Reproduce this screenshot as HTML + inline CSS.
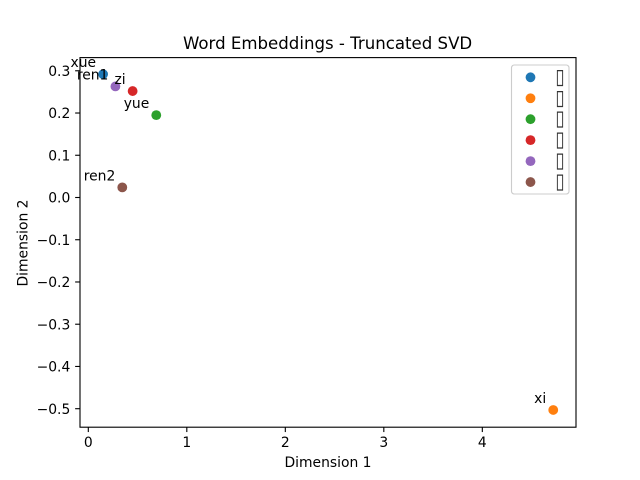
<!DOCTYPE html>
<html>
<head>
<meta charset="utf-8">
<title>Word Embeddings - Truncated SVD</title>
<style>
html,body{margin:0;padding:0;background:#fff;width:640px;height:480px;overflow:hidden}
svg{display:block}
text{font-family:"DejaVu Sans",sans-serif;fill:#000}
</style>
</head>
<body>
<svg id="chart" xmlns="http://www.w3.org/2000/svg" width="640" height="480" viewBox="0 0 640 480">
<rect x="0" y="0" width="640" height="480" fill="#fff"/>
<rect x="80" y="57.6" width="496" height="369.6" fill="#fff"/>
<g id="marks"></g>
<g id="labels"></g>
<g id="xticks"></g>
<g id="yticks"></g>
<rect x="80" y="57.6" width="496" height="369.6" fill="none" stroke="#000" stroke-width="1.11"/>
<text x="327.6" y="49" font-size="16.6" text-anchor="middle">Word Embeddings - Truncated SVD</text>
<text x="328" y="467" font-size="13.89" text-anchor="middle">Dimension 1</text>
<text transform="translate(27.6 243) rotate(-90)" font-size="13.89" text-anchor="middle">Dimension 2</text>
<g id="legend">
<rect x="511.5" y="65" width="57.5" height="129" rx="2.8" fill="#fff" fill-opacity="0.8" stroke="#ccc" stroke-width="1.11"/>
</g>
</svg>
<script>
const pointNames = ["xue", "xi", "yue", "zi", "ren1", "ren2"];
const dimension1 = [0.15, 4.72, 0.69, 0.45, 0.275, 0.345];
const dimension2 = [0.292, -0.503, 0.195, 0.252, 0.263, 0.024];
const seriesColors = ["#1f77b4", "#ff7f0e", "#2ca02c", "#d62728", "#9467bd", "#8c564b"];
const legendLabels = ["\u25AF", "\u25AF", "\u25AF", "\u25AF", "\u25AF", "\u25AF"];
const xTickValues = [0, 1, 2, 3, 4];
const yTickValues = [0.3, 0.2, 0.1, 0.0, -0.1, -0.2, -0.3, -0.4, -0.5];
const xTickLabels = ["0", "1", "2", "3", "4"];
const yTickLabels = ["0.3", "0.2", "0.1", "0.0", "\u22120.1", "\u22120.2", "\u22120.3", "\u22120.4", "\u22120.5"];

const xDomain = [-0.0843, 4.951];
const yDomain = [-0.5438, 0.3312];
const plotLeft = 80, plotRight = 576, plotTop = 57.6, plotBottom = 427.2;
const NS = "http://www.w3.org/2000/svg";

function xScale(v) {
  return plotLeft + (v - xDomain[0]) / (xDomain[1] - xDomain[0]) * (plotRight - plotLeft);
}
function yScale(v) {
  return plotBottom - (v - yDomain[0]) / (yDomain[1] - yDomain[0]) * (plotBottom - plotTop);
}
function make(tag, attrs, parent) {
  const el = document.createElementNS(NS, tag);
  for (const k in attrs) el.setAttribute(k, attrs[k]);
  parent.appendChild(el);
  return el;
}

const marks = document.getElementById("marks");
const labels = document.getElementById("labels");
const xticks = document.getElementById("xticks");
const yticks = document.getElementById("yticks");
const legend = document.getElementById("legend");

pointNames.forEach(function (name, i) {
  const cx = xScale(dimension1[i]);
  const cy = yScale(dimension2[i]);
  const dot = make("circle", { cx: cx, cy: cy, r: 4.9, fill: seriesColors[i] }, marks);
  
  
  const label = make("text", { x: cx - 7, y: cy - 7, "font-size": 13.89, "text-anchor": "end" }, labels);
  label.textContent = name;
  
  
});

xTickValues.forEach(function (v, i) {
  const x = xScale(v);
  const tick = make("line", { x1: x, x2: x, y1: plotBottom, y2: plotBottom + 4.86, stroke: "#000", "stroke-width": 1.11 }, xticks);
  
  
  const text = make("text", { x: x, y: 447, "font-size": 13.89, "text-anchor": "middle" }, xticks);
  text.textContent = xTickLabels[i];
  
  
});

yTickValues.forEach(function (v, i) {
  const y = yScale(v);
  const tick = make("line", { x1: plotLeft - 4.86, x2: plotLeft, y1: y, y2: y, stroke: "#000", "stroke-width": 1.11 }, yticks);
  
  
  const text = make("text", { x: 70.3, y: y + 5.2, "font-size": 13.89, "text-anchor": "end" }, yticks);
  text.textContent = yTickLabels[i];
  
  
});

legendLabels.forEach(function (t, i) {
  const y = 77.3 + i * 20.95;
  const swatch = make("circle", { cx: 530.5, cy: y, r: 4.9, fill: seriesColors[i] }, legend);
  
  
  const text = make("text", { transform: "translate(560 " + (y + 6) + ") scale(0.8 1)", "font-size": 21, "text-anchor": "middle", style: "fill:#333" }, legend);
  text.textContent = t;
  
  
});
</script>
</body>
</html>
